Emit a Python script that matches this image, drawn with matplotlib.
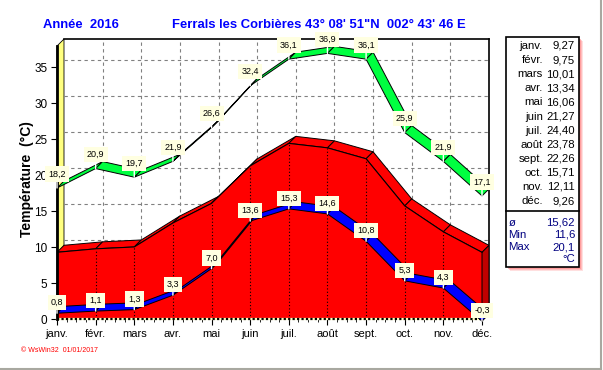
import numpy as np
import matplotlib
matplotlib.use('Agg')
import matplotlib.pyplot as plt
from matplotlib.patches import Polygon, Rectangle
from matplotlib.lines import Line2D

plt.rcParams['font.family'] = ['Liberation Sans', 'DejaVu Sans']

months = ['janv.', 'févr.', 'mars', 'avr.', 'mai', 'juin',
          'juil.', 'août', 'sept.', 'oct.', 'nov.', 'déc.']
t_mean = [9.27, 9.75, 10.01, 13.34, 16.06, 21.27, 24.40, 23.78, 22.26, 15.71, 12.11, 9.26]
t_max = [18.2, 20.9, 19.7, 21.9, 26.6, 32.4, 36.1, 36.9, 36.1, 25.9, 21.9, 17.1]
t_min = [0.8, 1.1, 1.3, 3.3, 7.0, 13.6, 15.3, 14.6, 10.8, 5.3, 4.3, -0.3]
yticks = [0, 5, 10, 15, 20, 25, 30, 35]
stats = [('ø', '15,62'), ('Min', '11,6'), ('Max', '20,1')]

W, H = 603, 370
DX, DY = 0.181, 0.972   # depth of the fake 3D look, in data units
YMAX = 38.9


def fmt(v, n=1):
    return f"{v:.{n}f}".replace('.', ',')


def px(x, y):
    return x / W, 1 - y / H


fig = plt.figure(figsize=(W / 100, H / 100), dpi=100)
fig.patch.set_facecolor('white')
ax = fig.add_axes([57 / W, 51 / H, 432 / W, 280 / H])
x = np.arange(len(months))
XMAX = x[-1] + DX
ax.set_xlim(0, XMAX)
ax.set_ylim(0, YMAX)
ax.set_facecolor('none')
for s in ax.spines.values():
    s.set_visible(False)

# yellow side wall + back frame
ax.add_patch(Polygon([(0, 0), (DX, DY), (DX, YMAX), (0, YMAX - DY)],
                     closed=True, fc='#FFFF80', ec='black', lw=0.6, zorder=1, clip_on=False))
ax.add_line(Line2D([0, 0], [0, YMAX - DY], color='black', lw=2.0, zorder=4.5, clip_on=False))
ax.add_line(Line2D([DX, XMAX], [YMAX, YMAX], color='black', lw=1.2, zorder=1, clip_on=False))
ax.add_line(Line2D([XMAX, XMAX], [DY, YMAX], color='black', lw=1.2, zorder=1, clip_on=False))

# grid on the back plane
for k in yticks[1:]:
    ax.plot([DX, XMAX], [k + DY, k + DY], color='#808080', lw=0.8, ls=(0, (3, 3)), zorder=1.5)
for i in x[1:-1]:
    ax.plot([i + DX, i + DX], [DY, YMAX], color='#808080', lw=0.8, ls=(0, (3, 3)), zorder=1.5)

# red area (mean) with depth
for i in range(len(x) - 1):
    ax.add_patch(Polygon([(x[i], t_mean[i]), (x[i + 1], t_mean[i + 1]),
                          (x[i + 1] + DX, t_mean[i + 1] + DY), (x[i] + DX, t_mean[i] + DY)],
                         closed=True, fc='#FF0000', ec='black', lw=0.7, zorder=2))
front = [(0, 0)] + list(zip(x, t_mean)) + [(x[-1], 0)]
ax.add_patch(Polygon(front, closed=True, fc='#FF0000', ec='none', zorder=2.1))
ax.plot(x, t_mean, color='black', lw=0.8, zorder=2.2)
ax.add_patch(Polygon([(x[-1], 0), (x[-1], t_mean[-1]), (XMAX, t_mean[-1] + DY), (XMAX, DY)],
                     closed=True, fc='#C00000', ec='black', lw=0.7, zorder=2.1))
for i in x[1:-1]:
    ax.plot([i, i], [0, t_mean[i]], color='black', lw=0.8, ls=(0, (1, 2)), zorder=2.2)

# axis line at 0
ax.plot([0, x[-1]], [0, 0], color='#FFFFC0', lw=1.6, zorder=2.3, clip_on=False)
ax.plot([0, x[-1]], [0, 0], color='black', lw=1.6, ls=(0, (1, 1)), zorder=2.4, clip_on=False)


def ribbon(vals, color):
    for i in range(len(x) - 1):
        ax.add_patch(Polygon([(x[i], vals[i]), (x[i + 1], vals[i + 1]),
                              (x[i + 1] + DX, vals[i + 1] + DY), (x[i] + DX, vals[i] + DY)],
                             closed=True, fc=color, ec='black', lw=0.7, zorder=3, clip_on=False))


ribbon(t_max, '#00FF40')
ribbon(t_min, '#0000FF')


def labels(vals, off):
    for i, v in enumerate(vals):
        ax.annotate(fmt(v), xy=(x[i], v), xytext=(0, off), textcoords='offset pixels',
                    ha='center', va='center', fontsize=6.5, zorder=5, annotation_clip=False,
                    bbox=dict(boxstyle='square,pad=0.35', fc='#FFFFE1', ec='none'),
                    arrowprops=dict(arrowstyle='-', color='white', lw=1, shrinkA=0, shrinkB=0))


labels(t_max, 14)
labels(t_min, 10.5)

# ticks
ax.set_xticks(x)
ax.set_xticklabels(months, fontsize=8)
ax.set_xticks(np.arange(0, x[-1] + 0.01, 0.25), minor=True)
ax.set_yticks(yticks)
ax.set_yticklabels([str(v) for v in yticks], fontsize=8.5)
ax.tick_params(axis='both', which='major', direction='out', length=4, width=0.8, pad=3)
ax.tick_params(axis='x', which='minor', direction='out', length=2, width=0.6)
ax.set_ylabel('Température  (°C)', fontsize=10, fontweight='bold', labelpad=0)

# titles and footer
fig.text(*px(43, 25), 'Année  2016', color='#0000FF', fontsize=9.4, fontweight='bold', va='center')
fig.text(*px(172, 25), 'Ferrals les Corbières 43° 08\' 51"N  002° 43\' 46 E',
         color='#0000FF', fontsize=9.4, fontweight='bold', va='center')
fig.text(*px(21, 351), '© WsWin32  01/01/2017', color='#FF0000', fontsize=5, va='center')

# legend table
x0, y0, x1, y1 = 506, 37, 579, 267
for k, a in [(4, 0.25), (3, 0.35), (2, 0.5)]:
    fig.patches.append(Rectangle(px(x0 + k, y1 + k), (x1 - x0) / W, (y1 - y0) / H,
                                 transform=fig.transFigure, fc='#FF8080', ec='none', alpha=a))
fig.patches.append(Rectangle(px(x0, y1), (x1 - x0) / W, (y1 - y0) / H,
                             transform=fig.transFigure, fc='white', ec='black', lw=1.2))
fig.lines.append(Line2D([x0 / W, x1 / W], [1 - 211 / H, 1 - 211 / H],
                        transform=fig.transFigure, color='black', lw=1.2))
for i, (m, v) in enumerate(zip(months, t_mean)):
    yy = 46 + i * 14.1
    fig.text(*px(543, yy), m, fontsize=8.2, ha='right', va='center')
    fig.text(*px(575, yy), fmt(v, 2), fontsize=8.2, ha='right', va='center')
navy = '#000080'
fig.text(*px(512, 223), stats[0][0], fontsize=8.2, ha='center', va='center', color=navy)
fig.text(*px(575, 223), stats[0][1], fontsize=8.2, ha='right', va='center', color=navy)
for i, (n, v) in enumerate(stats[1:]):
    yy = 235 + i * 12.5
    fig.text(*px(508, yy), n, fontsize=8.2, ha='left', va='center', color=navy)
    fig.text(*px(575, yy), v, fontsize=8.2, ha='right', va='center', color=navy)
fig.text(*px(575, 259), '°C', fontsize=8.2, ha='right', va='center', color=navy)

# window borders
fig.lines.append(Line2D([0, 601 / W], [1 - 368.5 / H, 1 - 368.5 / H],
                        transform=fig.transFigure, color='#A8A8A0', lw=1.5))
fig.lines.append(Line2D([600.5 / W, 600.5 / W], [1 - 368.5 / H, 1],
                        transform=fig.transFigure, color='#A8A8A0', lw=1.5))

fig.savefig('out.png', dpi=100)
